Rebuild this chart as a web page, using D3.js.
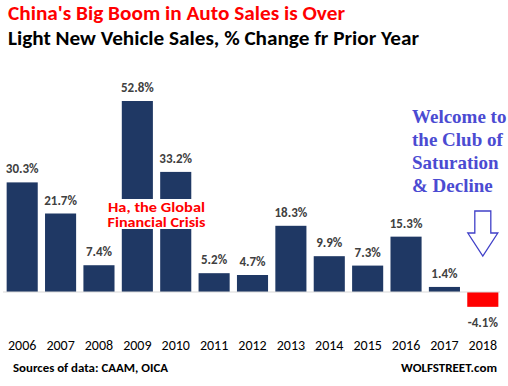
<!DOCTYPE html>
<html>
<head>
<meta charset="utf-8">
<script src="https://d3js.org/d3.v7.min.js"></script>
<style>
  body { margin: 0; background: #fff; }
  text { font-family: Calibri, Carlito, "Open Sans", "Noto Sans", sans-serif; }
</style>
</head>
<body>
<div id="chart"></div>
<script>
// data
var years = ["2006","2007","2008","2009","2010","2011","2012","2013","2014","2015","2016","2017","2018"];
var changes = [30.3, 21.7, 7.4, 52.8, 33.2, 5.2, 4.7, 18.3, 9.9, 7.3, 15.3, 1.4, -4.1];
var labels = ["30.3%","21.7%","7.4%","52.8%","33.2%","5.2%","4.7%","18.3%","9.9%","7.3%","15.3%","1.4%","-4.1%"];

var width = 508, height = 386;

var svg = d3.select("#chart").append("svg")
    .attr("width", width)
    .attr("height", height);

var x = d3.scaleBand()
    .domain(years)
    .range([3, 502])
    .paddingInner(0.19)
    .paddingOuter(0.095);

// 0 at y=292, 52.8 at y=101
var y = d3.scaleLinear()
    .domain([0, 52.8])
    .range([292, 101]);

// titles
svg.append("text")
    .attr("x", 8).attr("y", 20)
    .attr("fill", "#ff0000")
    .attr("textLength", 337).attr("lengthAdjust", "spacingAndGlyphs")
    .style("font-size", "20.5px").style("font-weight", "bold")
    .text("China's Big Boom in Auto Sales is Over");
svg.append("text")
    .attr("x", 8).attr("y", 45)
    .attr("fill", "#000")
    .attr("textLength", 411).attr("lengthAdjust", "spacingAndGlyphs")
    .style("font-size", "19.5px").style("font-weight", "bold")
    .text("Light New Vehicle Sales, % Change fr Prior Year");

// bars
svg.selectAll("rect.bar")
    .data(changes)
    .enter().append("rect")
    .attr("class", "bar")
    .attr("x", function(d, i) { return x(years[i]); })
    .attr("width", x.bandwidth())
    .attr("y", function(d) { return d >= 0 ? y(d) : y(0); })
    .attr("height", function(d) { return Math.abs(y(d) - y(0)); })
    .attr("fill", function(d) { return d >= 0 ? "#1f3864" : "#ff0000"; });

// zero line
svg.append("line")
    .attr("x1", 3).attr("x2", 500)
    .attr("y1", y(0)).attr("y2", y(0))
    .attr("stroke", "#d9d9d9").attr("stroke-width", 1);

// value labels
svg.selectAll("text.val")
    .data(changes)
    .enter().append("text")
    .attr("class", "val")
    .attr("x", function(d, i) { return x(years[i]) + x.bandwidth() / 2; })
    .attr("y", function(d) { return d >= 0 ? y(d) - 9 : y(d) + 20; })
    .attr("text-anchor", "middle")
    .attr("fill", "#404040")
    .style("font-size", "13px").style("font-weight", "bold")
    .text(function(d, i) { return labels[i]; });

// x axis labels
var xAxis = d3.axisBottom(x).tickSize(0).tickPadding(0);
var gx = svg.append("g")
    .attr("transform", "translate(0,340)")
    .call(xAxis);
gx.select(".domain").remove();
gx.selectAll("text")
    .attr("fill", "#000")
    .attr("dy", "0.7em")
    .style("font-size", "14px")
    .style("font-family", "Calibri, Carlito, 'Open Sans', 'Noto Sans', sans-serif");

// GFC annotation
var gfcX = (x("2009") + x("2010") + x.bandwidth()) / 2;
svg.append("rect")
    .attr("x", gfcX - 54).attr("y", 199)
    .attr("width", 108).attr("height", 30)
    .attr("fill", "#fff");
svg.append("text")
    .attr("x", gfcX).attr("y", 212)
    .attr("text-anchor", "middle")
    .attr("fill", "#ff0000")
    .attr("textLength", 97).attr("lengthAdjust", "spacingAndGlyphs")
    .style("font-size", "13.5px").style("font-weight", "bold")
    .text("Ha, the Global");
svg.append("text")
    .attr("x", gfcX).attr("y", 226.5)
    .attr("text-anchor", "middle")
    .attr("fill", "#ff0000")
    .attr("textLength", 98).attr("lengthAdjust", "spacingAndGlyphs")
    .style("font-size", "13.5px").style("font-weight", "bold")
    .text("Financial Crisis");

// welcome annotation
var welcome = ["Welcome to", "the Club of", "Saturation", "& Decline"];
svg.selectAll("text.wel")
    .data(welcome)
    .enter().append("text")
    .attr("class", "wel")
    .attr("x", 412)
    .attr("y", function(d, i) { return 123 + i * 23; })
    .attr("fill", "#4b4bd2")
    .style("font-family", "'Liberation Serif', 'DejaVu Serif', serif")
    .style("font-size", "19px").style("font-weight", "bold")
    .text(function(d) { return d; });

// hollow arrow pointing to 2018
var ax = x("2018") + x.bandwidth() / 2;
var arrow = [[ax - 8, 211], [ax + 8, 211], [ax + 8, 233], [ax + 15, 233],
             [ax, 256], [ax - 15, 233], [ax - 8, 233]];
svg.append("path")
    .attr("d", d3.line()(arrow) + "Z")
    .attr("fill", "#fff")
    .attr("stroke", "#4040c8")
    .attr("stroke-width", 1.3);

// footer
svg.append("text")
    .attr("x", 13).attr("y", 372)
    .attr("fill", "#000")
    .attr("textLength", 155).attr("lengthAdjust", "spacingAndGlyphs")
    .style("font-size", "12.5px").style("font-weight", "bold")
    .text("Sources of data: CAAM, OICA");
svg.append("text")
    .attr("x", 401).attr("y", 372)
    .attr("fill", "#000")
    .attr("textLength", 96).attr("lengthAdjust", "spacingAndGlyphs")
    .style("font-size", "12.5px").style("font-weight", "bold")
    .text("WOLFSTREET.com");
</script>
</body>
</html>
